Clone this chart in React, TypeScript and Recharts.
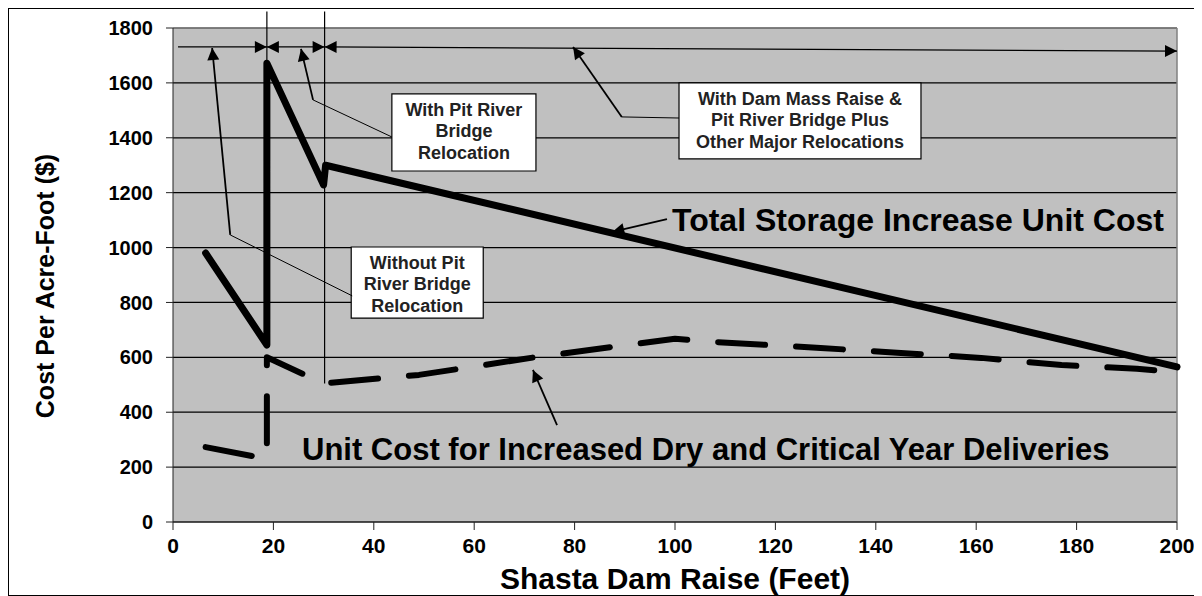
import React from 'react'
import {
  ComposedChart,
  Line,
  XAxis,
  YAxis,
  CartesianGrid,
  ReferenceLine,
  ReferenceArea,
  ReferenceDot,
} from 'recharts'

// Total storage increase unit cost (solid)
const totalRaise = [6.5, 18.7, 18.7, 30, 30.4, 200]
const totalCost = [980, 645, 1672, 1228, 1300, 565]

// Unit cost for increased dry and critical year deliveries (dashed)
const dryRaise = [6.5, 18.7, 18.7, 30, 49, 72, 100, 108, 129, 145, 161, 177, 192, 200]
const dryCost = [273, 230, 600, 505, 536, 600, 668, 656, 634, 616, 598, 572, 558, 547]

const xTicks = [0, 20, 40, 60, 80, 100, 120, 140, 160, 180, 200]
const yTicks = [0, 200, 400, 600, 800, 1000, 1200, 1400, 1600, 1800]

const totalData = totalRaise.map((x, i) => ({ x, y: totalCost[i] }))
const dryData = dryRaise.map((x, i) => ({ x, y: dryCost[i] }))

const FONT = 'Arial, "Liberation Sans", sans-serif'

const head = (tx: number, ty: number, fx: number, fy: number) => {
  const a = Math.atan2(ty - fy, tx - fx)
  const L = 12
  const W = 6
  const bx = tx - L * Math.cos(a)
  const by = ty - L * Math.sin(a)
  const px = -Math.sin(a) * W
  const py = Math.cos(a) * W
  return <polygon points={`${tx},${ty} ${bx + px},${by + py} ${bx - px},${by - py}`} fill="#000" />
}

const arrow = (ends: 'none' | 'end' | 'both', width = 1.5, color = '#000') => (p: any) => {
  const { x1, y1, x2, y2 } = p
  return (
    <g>
      <line x1={x1} y1={y1} x2={x2} y2={y2} stroke={color} strokeWidth={width} />
      {ends !== 'none' && head(x2, y2, x1, y1)}
      {ends === 'both' && head(x1, y1, x2, y2)}
    </g>
  )
}

const boxLabel = (lines: string[]) => (props: any) => {
  const vb = props.viewBox
  return (
    <g>
      {lines.map((t, i) => (
        <text key={i} x={vb.x + vb.width / 2} y={vb.y + 16 + i * 21.4} textAnchor="middle"
          dominantBaseline="central" fontSize={18} fontWeight="bold" fill="#222" fontFamily={FONT}>{t}</text>
      ))}
    </g>
  )
}

const bigText = (t: string, size: number) => (p: any) => (
  <text x={p.cx} y={p.cy} fontSize={size} fontWeight="bold" fill="#000" fontFamily={FONT}>{t}</text>
)

export default function App() {
  return (
    <div style={{ width: 1188, height: 586, border: '1px solid #000', fontFamily: FONT, background: '#fff' }}>
      <ComposedChart width={1188} height={586} margin={{ top: 19, right: 20, bottom: 33, left: 0 }}>
        <CartesianGrid fill="#C0C0C0" stroke="#000" strokeWidth={1.2} vertical={false} horizontalValues={yTicks} />
        <XAxis type="number" dataKey="x" domain={[0, 200]} ticks={xTicks} height={40}
          stroke="#222" tickSize={8} tickMargin={8} interval={0}
          tick={{ fontSize: 21, fontWeight: 'bold', fill: '#000' }}
          label={{
            content: (p: any) => (
              <text x={p.viewBox.x + p.viewBox.width / 2} y={p.viewBox.y + 67} textAnchor="middle"
                fontSize={30} fontWeight="bold" fill="#000">Shasta Dam Raise (Feet)</text>
            ),
          }} />
        <YAxis type="number" domain={[0, 1800]} ticks={yTicks} width={164} interval={0}
          stroke="#222" tickSize={7} tickMargin={13}
          tick={{ fontSize: 20, fontWeight: 'bold', fill: '#000' }}
          label={{
            content: () => (
              <text x={36} y={277} transform="rotate(-90 36 277)" textAnchor="middle" dominantBaseline="central"
                fontSize={25} fontWeight="bold" fill="#000">Cost Per Acre-Foot ($)</text>
            ),
          }} />
        <ReferenceLine y={1800} stroke="#808080" strokeWidth={1.5} />
        <ReferenceLine x={200} stroke="#808080" strokeWidth={1.5} />

        {/* raise ranges */}
        <ReferenceLine segment={[{ x: 18.7, y: 1860 }, { x: 18.7, y: 1672 }]} ifOverflow="visible" shape={arrow('none', 1.2)} />
        <ReferenceLine segment={[{ x: 30.2, y: 1860 }, { x: 30.2, y: 505 }]} ifOverflow="visible" shape={arrow('none', 1.2)} />
        <ReferenceLine segment={[{ x: 1, y: 1731 }, { x: 18.7, y: 1731 }]} ifOverflow="visible" shape={arrow('end', 1.2)} />
        <ReferenceLine segment={[{ x: 18.7, y: 1731 }, { x: 30.2, y: 1731 }]} ifOverflow="visible" shape={arrow('both', 1.2)} />
        <ReferenceLine segment={[{ x: 30.2, y: 1731 }, { x: 200, y: 1716 }]} ifOverflow="visible" shape={arrow('both', 1.2)} />

        {/* callout boxes */}
        <ReferenceArea x1={43.6} x2={72.3} y1={1279} y2={1560} fill="#fff" fillOpacity={1} stroke="#000" strokeWidth={1.2}
          ifOverflow="visible" label={{ content: boxLabel(['With Pit River', 'Bridge', 'Relocation']) }} />
        <ReferenceArea x1={100.8} x2={149} y1={1323} y2={1600} fill="#fff" fillOpacity={1} stroke="#000" strokeWidth={1.2}
          ifOverflow="visible" label={{ content: boxLabel(['With Dam Mass  Raise &', 'Pit River Bridge Plus', 'Other Major Relocations']) }} />
        <ReferenceArea x1={35.5} x2={61.8} y1={743} y2={1002} fill="#fff" fillOpacity={1} stroke="#000" strokeWidth={1.2}
          ifOverflow="visible" label={{ content: boxLabel(['Without Pit', 'River Bridge', 'Relocation']) }} />

        {/* callout leaders */}
        <ReferenceLine segment={[{ x: 35.7, y: 824 }, { x: 11.4, y: 1046 }]} ifOverflow="visible" shape={arrow('none', 1)} />
        <ReferenceLine segment={[{ x: 11.4, y: 1046 }, { x: 7.8, y: 1727 }]} ifOverflow="visible" shape={arrow('end', 1.8)} />
        <ReferenceLine segment={[{ x: 43.6, y: 1403 }, { x: 27.9, y: 1538 }]} ifOverflow="visible" shape={arrow('none', 1)} />
        <ReferenceLine segment={[{ x: 27.9, y: 1538 }, { x: 25.5, y: 1724 }]} ifOverflow="visible" shape={arrow('end', 1.8)} />
        <ReferenceLine segment={[{ x: 100.8, y: 1472 }, { x: 89.4, y: 1476 }]} ifOverflow="visible" shape={arrow('none', 1)} />
        <ReferenceLine segment={[{ x: 89.4, y: 1476 }, { x: 79.7, y: 1731 }]} ifOverflow="visible" shape={arrow('end', 1.8)} />
        <ReferenceLine segment={[{ x: 98.4, y: 1104 }, { x: 87.5, y: 1057 }]} ifOverflow="visible" shape={arrow('end', 1.8)} />
        <ReferenceLine segment={[{ x: 76.5, y: 353 }, { x: 71.7, y: 554 }]} ifOverflow="visible" shape={arrow('end', 1.8)} />

        <Line data={totalData} dataKey="y" type="linear" stroke="#000" strokeWidth={7} dot={false}
          strokeLinejoin="round" strokeLinecap="round" isAnimationActive={false} />
        <Line data={dryData} dataKey="y" type="linear" stroke="#000" strokeWidth={6} dot={false}
          strokeDasharray="47 31" strokeLinejoin="round" strokeLinecap="round" isAnimationActive={false} />

        <ReferenceDot x={99.4} y={1060} r={0} ifOverflow="visible" shape={bigText('Total Storage Increase  Unit Cost', 32)} />
        <ReferenceDot x={25.7} y={226} r={0} ifOverflow="visible" shape={bigText('Unit Cost for Increased Dry and Critical  Year Deliveries', 31)} />
      </ComposedChart>
    </div>
  )
}
